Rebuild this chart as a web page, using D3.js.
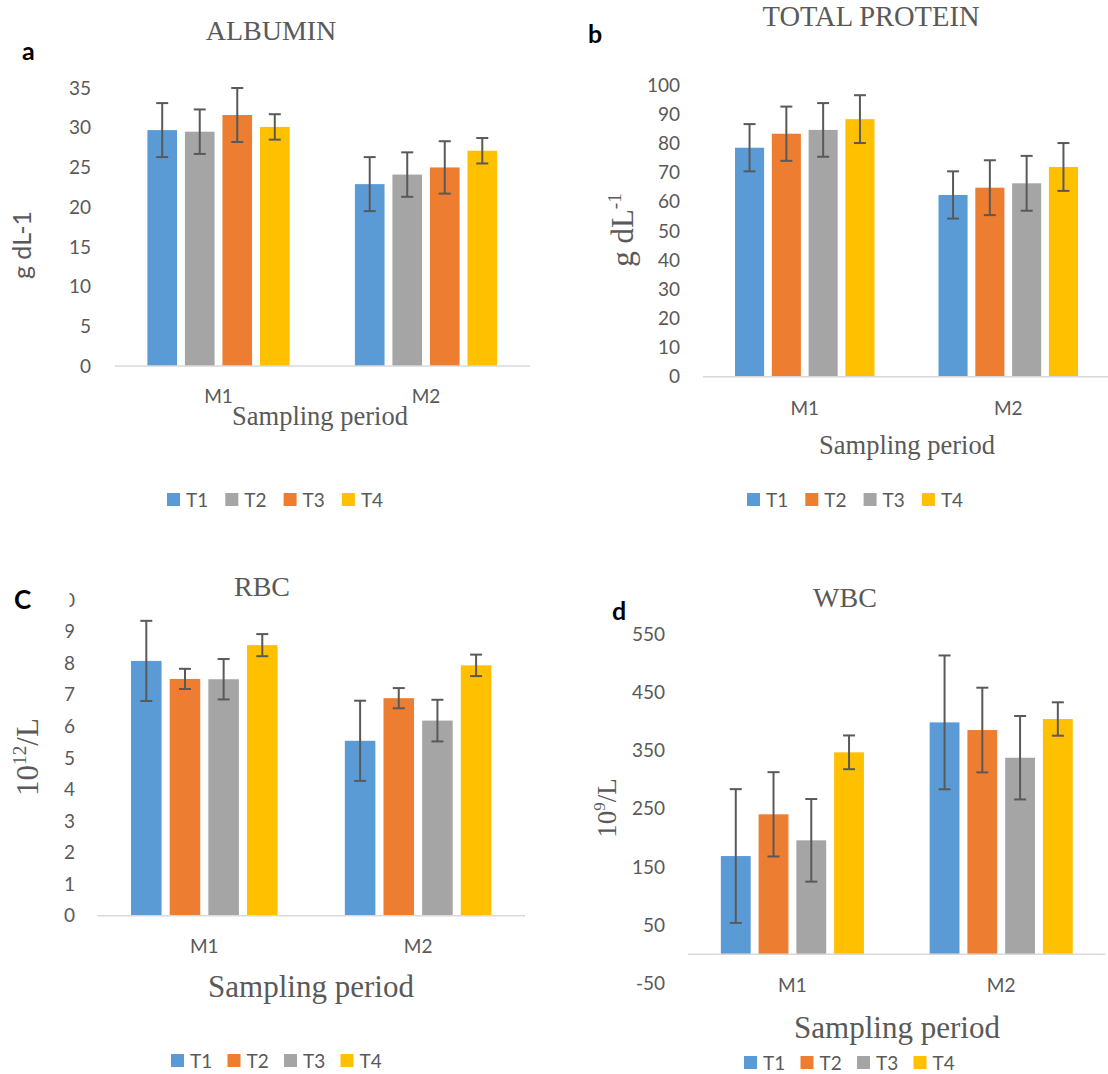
<!DOCTYPE html>
<html lang="en">
<head>
<meta charset="UTF-8">
<title>Albumin, Total protein, RBC and WBC</title>
<script src="https://d3js.org/d3.v7.min.js"></script>
<style>
  body { margin: 0; background: #fff; }
  svg text { fill: #595959; }
  .tick-label, .cat-label, .legend-label { font-family: Lato, "Open Sans", sans-serif; }
  .serif { font-family: "Liberation Serif", "Times New Roman", serif; }
  .panel-letter { font-family: Lato, sans-serif; font-weight: bold; fill: #000 !important; }
</style>
</head>
<body>
<div id="chart"></div>
<script>
// categories and series
const categories = ["M1", "M2"];
const seriesNames = ["T1", "T2", "T3", "T4"];

// colours (albumin has grey and orange swapped)
const coloursAlbumin = ["#5B9BD5", "#A5A5A5", "#ED7D31", "#FFC000"];
const coloursOther = ["#5B9BD5", "#ED7D31", "#A5A5A5", "#FFC000"];

// values: one row per sampling period, one entry per treatment
const albuminValues = [[29.7, 29.5, 31.6, 30.1], [22.9, 24.1, 25.0, 27.1]];
const albuminErrors = [[3.4, 2.8, 3.4, 1.6], [3.4, 2.8, 3.3, 1.6]];
const albuminTicks = [0, 5, 10, 15, 20, 25, 30, 35];

const proteinValues = [[78.5, 83.3, 84.6, 88.3], [62.3, 64.8, 66.3, 71.9]];
const proteinErrors = [[8.1, 9.3, 9.2, 8.2], [8.1, 9.4, 9.4, 8.2]];
const proteinTicks = [0, 10, 20, 30, 40, 50, 60, 70, 80, 90, 100];

const rbcValues = [[8.07, 7.5, 7.49, 8.57], [5.54, 6.89, 6.18, 7.93]];
const rbcErrors = [[1.27, 0.32, 0.64, 0.35], [1.27, 0.32, 0.66, 0.34]];
const rbcTicks = [0, 1, 2, 3, 4, 5, 6, 7, 8, 9, 10];

const wbcValues = [[168.8, 240.5, 195.8, 347.1], [398.6, 385.4, 337.8, 404.4]];
const wbcErrors = [[115, 72.5, 71, 29], [115, 72.8, 71.7, 28.7]];
const wbcTicks = [-50, 50, 150, 250, 350, 450, 550];

const W = 1108, H = 1074;
const svg = d3.select("#chart").append("svg")
    .attr("width", W).attr("height", H);

// panel layout (pixel positions only)
const panels = [
  {
    values: albuminValues, errors: albuminErrors, ticks: albuminTicks, colours: coloursAlbumin,
    domain: [0, 35], yRange: [366, 88], xRange: [114.75, 529.75], tickX: 91,
    title: "ALBUMIN", titleX: 271, titleY: 40, titleSize: 28,
    letter: "a", letterX: 22, letterY: 60, letterSize: 25,
    catY: 403, xTitleX: 320, xTitleY: 425, xTitleSize: 26.5,
    yTitle: [{t: "g dL-1"}], yTitleSerif: false, yTitleX: 31, yTitleY: 245, yTitleSize: 25,
    legendX: 167, legendY: 493, legendStep: 58.3
  },
  {
    values: proteinValues, errors: proteinErrors, ticks: proteinTicks, colours: coloursOther,
    domain: [0, 100], yRange: [376.7, 85], xRange: [703, 1110], tickX: 680,
    title: "TOTAL PROTEIN", titleX: 871, titleY: 26, titleSize: 28.5,
    letter: "b", letterX: 588, letterY: 43, letterSize: 25,
    catY: 415, xTitleX: 907, xTitleY: 454, xTitleSize: 26.5,
    yTitle: [{t: "g dL"}, {t: "-1", sup: true}], yTitleSerif: true, yTitleX: 633, yTitleY: 230, yTitleSize: 31,
    legendX: 747, legendY: 493, legendStep: 58.3
  },
  {
    values: rbcValues, errors: rbcErrors, ticks: rbcTicks, colours: coloursOther,
    domain: [0, 10], yRange: [915.7, 600], xRange: [97.4, 525], tickX: 75,
    title: "RBC", titleX: 262, titleY: 596, titleSize: 28,
    letter: "C", letterX: 14, letterY: 609, letterSize: 26, cover: true,
    catY: 953, xTitleX: 311, xTitleY: 997, xTitleSize: 31,
    yTitle: [{t: "10"}, {t: "12", sup: true}, {t: "/L", down: true}], yTitleSerif: true, yTitleX: 38, yTitleY: 757, yTitleSize: 31,
    legendX: 171, legendY: 1054, legendStep: 56.5
  },
  {
    values: wbcValues, errors: wbcErrors, ticks: wbcTicks, colours: coloursOther,
    domain: [-50, 550], yRange: [983.3, 634.3], xRange: [688, 1105.6], tickX: 665,
    title: "WBC", titleX: 845, titleY: 607, titleSize: 28,
    letter: "d", letterX: 612, letterY: 620, letterSize: 25,
    catY: 992, xTitleX: 897, xTitleY: 1038, xTitleSize: 31,
    yTitle: [{t: "10"}, {t: "9", sup: true}, {t: "/L", down: true}], yTitleSerif: true, yTitleX: 616, yTitleY: 808, yTitleSize: 27,
    legendX: 744, legendY: 1056, legendStep: 56.5
  }
];

panels.forEach(drawPanel);

function drawPanel(p) {
  const g = svg.append("g");

  const y = d3.scaleLinear().domain(p.domain).range(p.yRange);
  const x0 = d3.scaleBand().domain(categories).range(p.xRange);
  const x1 = d3.scaleBand().domain(seriesNames)
      .range([0, x0.bandwidth()])
      .paddingInner(0.21).paddingOuter(0.87);

  // tick labels (no gridlines)
  g.append("g").selectAll("text")
    .data(p.ticks)
    .join("text")
      .attr("class", "tick-label")
      .attr("x", p.tickX)
      .attr("y", d => y(d))
      .attr("dy", "0.35em")
      .attr("text-anchor", "end")
      .style("font-size", "19px")
      .text(d => d);

  // bars
  const groups = g.append("g").selectAll("g")
    .data(categories)
    .join("g")
      .attr("transform", d => `translate(${x0(d)},0)`);

  groups.selectAll("rect")
    .data((c, i) => seriesNames.map((s, j) => ({s, j, v: p.values[i][j]})))
    .join("rect")
      .attr("x", d => x1(d.s))
      .attr("y", d => y(d.v))
      .attr("width", x1.bandwidth())
      .attr("height", d => y(0) - y(d.v))
      .attr("fill", d => p.colours[d.j]);

  // category axis line at zero
  g.append("line")
    .attr("x1", p.xRange[0]).attr("x2", p.xRange[1])
    .attr("y1", y(0)).attr("y2", y(0))
    .attr("stroke", "#D9D9D9").attr("stroke-width", 1.5);

  // error bars
  const err = groups.selectAll("g.err")
    .data((c, i) => seriesNames.map((s, j) => ({s, v: p.values[i][j], e: p.errors[i][j]})))
    .join("g").attr("class", "err")
      .attr("stroke", "#595959").attr("stroke-width", 2);
  const cx = d => x1(d.s) + x1.bandwidth() / 2;
  err.append("line")
    .attr("x1", cx).attr("x2", cx)
    .attr("y1", d => y(d.v + d.e)).attr("y2", d => y(d.v - d.e));
  [1, -1].forEach(sign => {
    err.append("line")
      .attr("x1", d => cx(d) - 6).attr("x2", d => cx(d) + 6)
      .attr("y1", d => y(d.v + sign * d.e)).attr("y2", d => y(d.v + sign * d.e));
  });

  // category labels
  g.append("g").selectAll("text")
    .data(categories)
    .join("text")
      .attr("class", "cat-label")
      .attr("x", d => x0(d) + x0.bandwidth() / 2)
      .attr("y", p.catY)
      .attr("text-anchor", "middle")
      .style("font-size", "19px")
      .text(d => d);

  // titles
  g.append("text").attr("class", "serif")
    .attr("x", p.titleX).attr("y", p.titleY)
    .attr("text-anchor", "middle")
    .style("font-size", p.titleSize + "px")
    .text(p.title);

  g.append("text").attr("class", "serif")
    .attr("x", p.xTitleX).attr("y", p.xTitleY)
    .attr("text-anchor", "middle")
    .style("font-size", p.xTitleSize + "px")
    .text("Sampling period");

  const yt = g.append("text")
    .attr("class", p.yTitleSerif ? "serif" : "tick-label")
    .attr("transform", `translate(${p.yTitleX},${p.yTitleY}) rotate(-90)`)
    .attr("text-anchor", "middle")
    .style("font-size", p.yTitleSize + "px");
  p.yTitle.forEach(part => {
    const ts = yt.append("tspan").text(part.t);
    if (part.sup) ts.attr("dy", -p.yTitleSize * 0.4).style("font-size", (p.yTitleSize * 0.62) + "px");
    if (part.down) ts.attr("dy", p.yTitleSize * 0.4);
  });

  // white box of the panel letter (covers the top tick labels in panel C)
  if (p.cover) {
    g.append("rect").attr("x", 0).attr("y", 584).attr("width", 69.5).attr("height", 30).attr("fill", "#fff");
    g.append("rect").attr("x", 0).attr("y", 614).attr("width", 65.5).attr("height", 30).attr("fill", "#fff");
  }
  g.append("text").attr("class", "panel-letter")
    .attr("x", p.letterX).attr("y", p.letterY)
    .style("font-size", p.letterSize + "px")
    .text(p.letter);

  // legend
  const leg = g.append("g").selectAll("g")
    .data(seriesNames)
    .join("g")
      .attr("transform", (d, i) => `translate(${p.legendX + i * p.legendStep},${p.legendY})`);
  leg.append("rect")
    .attr("width", 13).attr("height", 13)
    .attr("fill", (d, i) => p.colours[i]);
  leg.append("text")
    .attr("class", "legend-label")
    .attr("x", 19).attr("y", 13.5)
    .style("font-size", "19px")
    .text(d => d);
}
</script>
</body>
</html>
